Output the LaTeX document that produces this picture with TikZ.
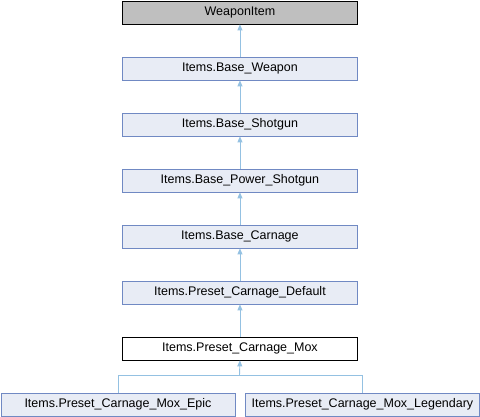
\documentclass[tikz,border=0pt]{standalone}
\usepackage{fontspec}
\setmainfont{Liberation Sans}
\usetikzlibrary{arrows.meta}
\definecolor{boxfill}{HTML}{E8ECF5}
\definecolor{boxdraw}{HTML}{7089C3}
\definecolor{edgecol}{HTML}{94C1E2}
\definecolor{topfill}{HTML}{BFBFBF}
\tikzset{
  cls/.style={draw=boxdraw, fill=boxfill, line width=0.9pt, minimum width=235pt, minimum height=23pt, inner sep=0pt, font=\fontsize{12.5}{14}\selectfont, anchor=north west},
  base/.style={cls, draw=black, fill=topfill},
  cur/.style={cls, draw=black, fill=white},
  inh/.style={draw=edgecol, line width=0.9pt, -{Triangle[length=6pt,width=5pt,fill=edgecol]}}
}
\begin{document}
\begin{tikzpicture}[x=1pt,y=-1pt]
\useasboundingbox (0,0) rectangle (480,416);
\node[base] (w) at (122,0.5) {WeaponItem};
\node[cls] (bw) at (122,56.5) {Items.Base\_Weapon};
\node[cls] (bs) at (122,112.5) {Items.Base\_Shotgun};
\node[cls] (bp) at (122,168.5) {Items.Base\_Power\_Shotgun};
\node[cls] (bc) at (122,224.5) {Items.Base\_Carnage};
\node[cls] (pd) at (122,280.5) {Items.Preset\_Carnage\_Default};
\node[cur] (mx) at (122,336.5) {Items.Preset\_Carnage\_Mox};
\node[cls, minimum width=234pt] (ep) at (0.5,392.5) {Items.Preset\_Carnage\_Mox\_Epic};
\node[cls, minimum width=234pt] (lg) at (245,392.5) {Items.Preset\_Carnage\_Mox\_Legendary};
\draw[inh] (bw.north) -- (w.south);
\draw[inh] (bs.north) -- (bw.south);
\draw[inh] (bp.north) -- (bs.south);
\draw[inh] (bc.north) -- (bp.south);
\draw[inh] (pd.north) -- (bc.south);
\draw[inh] (mx.north) -- (pd.south);
\coordinate (j) at (239.5,375.5);
\draw[draw=edgecol, line width=0.9pt] (ep.north) |- (j) -| (lg.north);
\draw[inh] (j) -- (mx.south);
\end{tikzpicture}
\end{document}
